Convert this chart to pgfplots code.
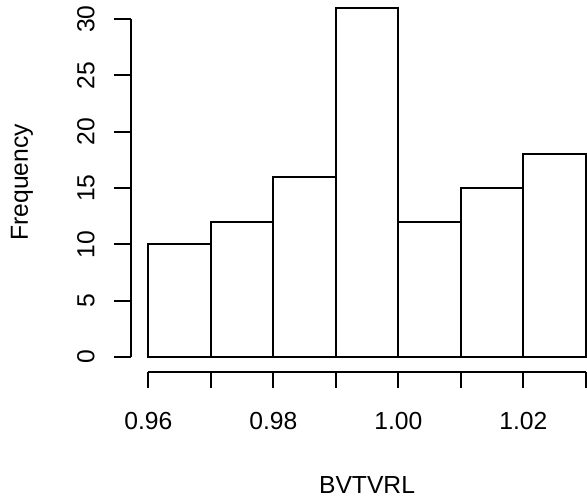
\documentclass[border=0pt]{standalone}
\usepackage{pgfplots}
\pgfplotsset{compat=1.18}
\usepackage{fontspec}
\setmainfont{Liberation Sans}
\begin{document}
\fontsize{18.5}{22}\selectfont
\begin{tikzpicture}
\useasboundingbox (-111.225pt,-108pt) rectangle (329.025pt,267.75pt);
\begin{axis}[
  at={(0,0)}, anchor=south west,
  scale only axis,
  width=328.125pt, height=253.5pt,
  xmin=0.96, xmax=1.03, ymin=0, ymax=30,
  clip=false,
  axis x line*=bottom, axis y line*=left,
  axis line style={-, line width=1.4pt, black},
  axis x line shift=11pt,
  axis y line shift=13.2pt,
  xtick={0.96,0.97,0.98,0.99,1.00,1.01,1.02,1.03},
  xticklabels={0.96,,0.98,,1.00,,1.02,},
  ytick={0,5,10,15,20,25,30},
  yticklabels={0,5,10,15,20,25,30},
  tick align=outside,
  major tick length=12.2pt,
  tick style={line width=1.4pt, black},
  /pgf/number format/assume math mode=true,
  xticklabel style={anchor=base, inner sep=0pt, yshift=-31pt, font=\fontsize{18.5}{22}\selectfont},
  yticklabel style={xshift=-15pt, rotate=90, anchor=base, inner sep=0pt, font=\fontsize{18.5}{22}\selectfont},
  xlabel={BVTVRL},
  ylabel={Frequency},
  xlabel style={at={(axis description cs:0.5,-0.4024)}, anchor=base, inner sep=0pt, font=\fontsize{18.5}{22}\selectfont},
  ylabel style={at={(axis description cs:-0.275,0.5167)}, anchor=base, inner sep=0pt, font=\fontsize{18.5}{22}\selectfont},
]
\addplot[ybar interval, fill=white, draw=black, line width=1.4pt] coordinates {
  (0.96,10) (0.97,12) (0.98,16) (0.99,31) (1.00,12) (1.01,15) (1.02,18) (1.03,18)
};
\end{axis}
\end{tikzpicture}
\end{document}
